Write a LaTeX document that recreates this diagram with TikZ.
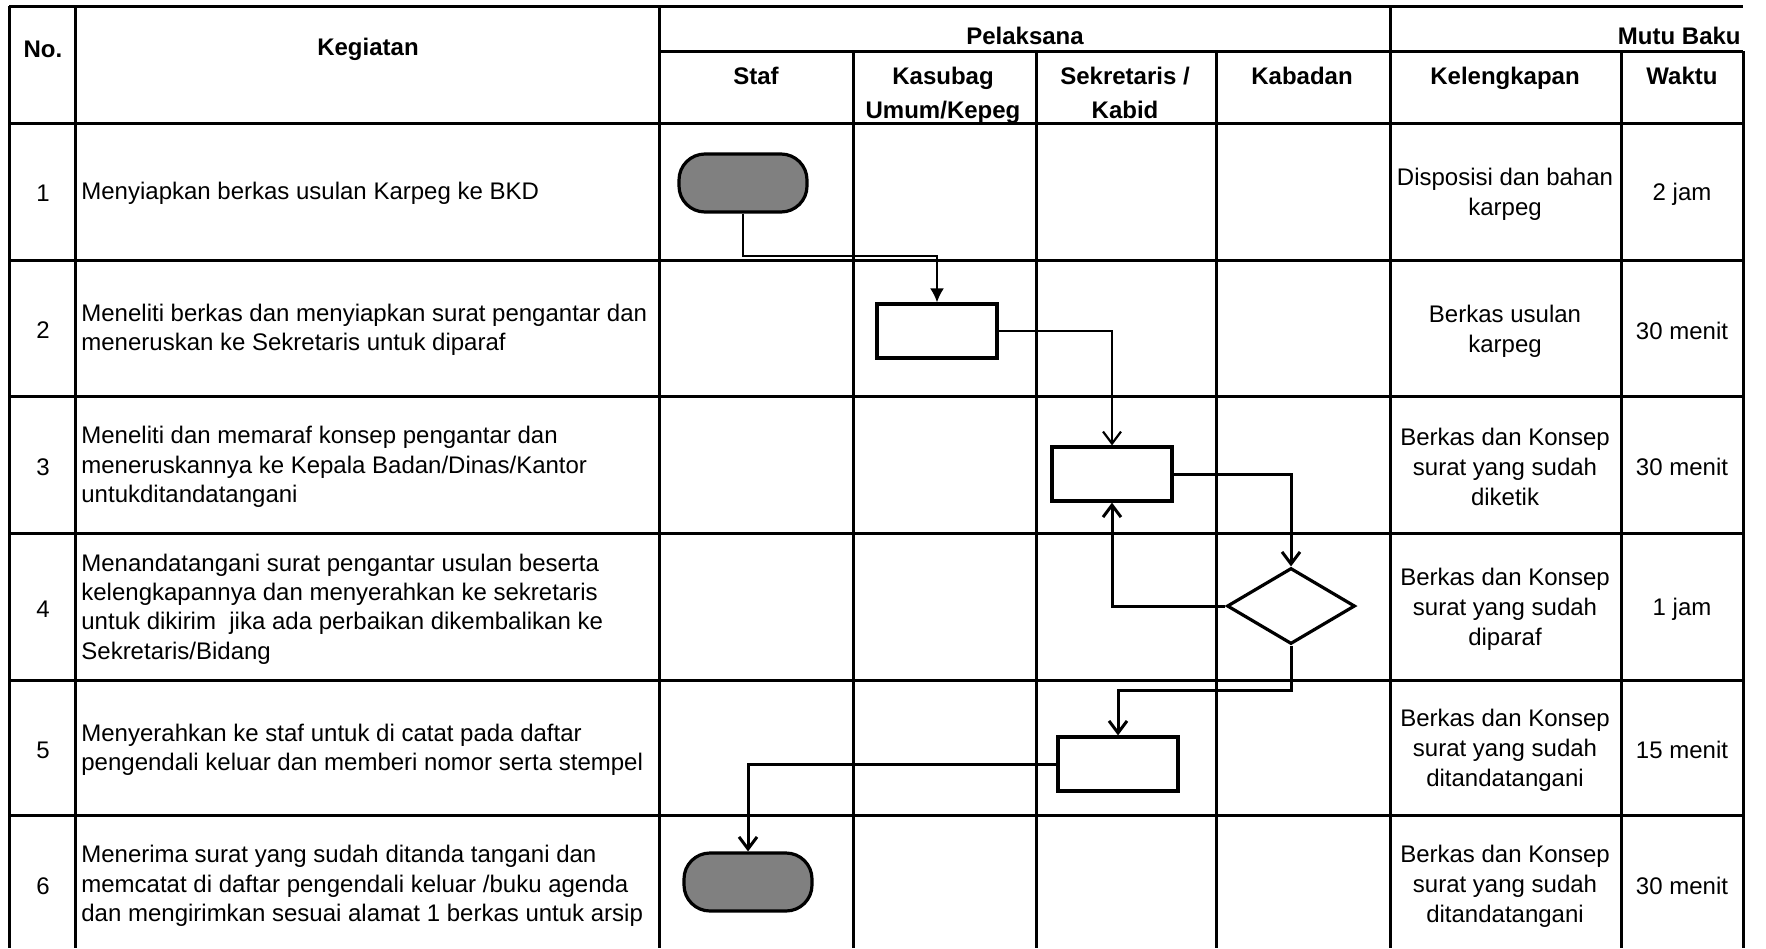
\documentclass[tikz,border=0pt]{standalone}
\usepackage{fontspec}
\setmainfont{Liberation Sans}
\usetikzlibrary{arrows.meta, shapes.geometric}

\begin{document}
\begin{tikzpicture}[x=0.5pt, y=-0.5pt, grid/.style={line width=1.5pt}, hd/.style={font=\fontsize{12}{17}\selectfont\bfseries, align=center, inner sep=0}, txt/.style={font=\fontsize{12}{14.7}\selectfont, align=left, anchor=west, inner sep=0}, cell/.style={font=\fontsize{12}{15}\selectfont, align=center, inner sep=0}, term/.style={draw, line width=1.6pt, fill=black!50, rounded corners=13pt, minimum width=64pt, minimum height=29pt}, box/.style={draw, line width=1.6pt, minimum width=60pt, minimum height=27pt, inner sep=0}, choice/.style={draw, diamond, line width=1.6pt, minimum width=64pt, minimum height=38pt, inner sep=0}, flow/.style={-{Latex[length=7pt, width=7pt]}, line width=1.1pt}, back/.style={-{Straight Barb[length=6pt, width=9pt]}, line width=1.5pt}]

\useasboundingbox (0,0) rectangle (1766,948);
% table grid
\draw[grid] (9,6) -- (1743,6); \draw[grid] (659,51) -- (1743,51);
\draw[grid] (9,6) -- (9,948); \draw[grid] (75,6) -- (75,948); \draw[grid] (659,6) -- (659,948); \draw[grid] (1390,6) -- (1390,948);
\draw[grid] (853,51) -- (853,948); \draw[grid] (1036,51) -- (1036,948); \draw[grid] (1216,51) -- (1216,948); \draw[grid] (1621,51) -- (1621,948); \draw[grid] (1743,51) -- (1743,948);
\draw[grid] (9,123) -- (1743,123); \draw[grid] (9,260) -- (1743,260); \draw[grid] (9,396) -- (1743,396); \draw[grid] (9,533) -- (1743,533); \draw[grid] (9,680) -- (1743,680); \draw[grid] (9,815) -- (1743,815);

% header
\node[hd] (hno) at (43,49) {No.}; \node[hd] (hkeg) at (368,49) {Kegiatan}; \node[hd] (hpel) at (1025,36) {Pelaksana}; \node[hd, anchor=east] (hmutu) at (1741,36) {Mutu Baku};
\node[hd, anchor=north] (hstaf) at (756,67) {Staf}; \node[hd, anchor=north] (hkasu) at (943,67) {Kasubag\\Umum/Kepeg}; \node[hd, anchor=north] (hsekr) at (1125,67) {Sekretaris /\\Kabid};
\node[hd, anchor=north] (hkaba) at (1302,67) {Kabadan}; \node[hd, anchor=north] (hlengk) at (1505,67) {Kelengkapan}; \node[hd, anchor=north] (hwaktu) at (1682,67) {Waktu};

% rows
\node[cell] (n1) at (43,193) {1}; \node[txt] (k1) at (81,193) {Menyiapkan berkas usulan Karpeg ke BKD};
\node[cell] (n2) at (43,330) {2}; \node[txt] (k2) at (81,330) {Meneliti berkas dan menyiapkan surat pengantar dan\\meneruskan ke Sekretaris untuk diparaf};
\node[cell] (n3) at (43,467) {3}; \node[txt] (k3) at (81,467) {Meneliti dan memaraf konsep pengantar dan\\meneruskannya ke Kepala Badan/Dinas/Kantor\\untukditandatangani};
\node[cell] (n4) at (43,609) {4}; \node[txt] (k4) at (81,609) {Menandatangani surat pengantar usulan beserta\\kelengkapannya dan menyerahkan ke sekretaris\\untuk dikirim\ \ jika ada perbaikan dikembalikan ke\\Sekretaris/Bidang};
\node[cell] (n5) at (43,750) {5}; \node[txt] (k5) at (81,750) {Menyerahkan ke staf untuk di catat pada daftar\\pengendali keluar dan memberi nomor serta stempel};
\node[cell] (n6) at (43,886) {6}; \node[txt] (k6) at (81,886) {Menerima surat yang sudah ditanda tangani dan\\memcatat di daftar pengendali keluar /buku agenda\\dan mengirimkan sesuai alamat 1 berkas untuk arsip};

\node[cell] (l1) at (1505,194) {Disposisi dan bahan\\karpeg}; \node[cell] (w1) at (1682,194) {2 jam};
\node[cell] (l2) at (1505,331) {Berkas usulan\\karpeg}; \node[cell] (w2) at (1682,331) {30 menit};
\node[cell] (l3) at (1505,467) {Berkas dan Konsep\\surat yang sudah\\diketik}; \node[cell] (w3) at (1682,467) {30 menit};
\node[cell] (l4) at (1505,609) {Berkas dan Konsep\\surat yang sudah\\diparaf}; \node[cell] (w4) at (1682,609) {1 jam};
\node[cell] (l5) at (1505,750) {Berkas dan Konsep\\surat yang sudah\\ditandatangani}; \node[cell] (w5) at (1682,750) {15 menit};
\node[cell] (l6) at (1505,886) {Berkas dan Konsep\\surat yang sudah\\ditandatangani}; \node[cell] (w6) at (1682,886) {30 menit};

% flow
\node[term] (t1) at (743,183) {}; \node[box] (b2) at (937,331) {}; \node[box] (b3) at (1112,474) {};
\node[choice] (d4) at (1291,606) {}; \node[box] (b5) at (1118,764) {}; \node[term] (t6) at (748,882) {};
\coordinate (j1) at (0,256); \coordinate (j5) at (0,690);
\draw[flow] (t1.south) |- (b2.north |- j1) -- (b2.north); \draw[back, line width=1.1pt] (b2.east) -| (b3.north);
\draw[back] (b3.east) -| (d4.north); \draw[back] (d4.west) -| (b3.south);
\draw[back] (d4.south) |- (b5.north |- j5) -- (b5.north); \draw[back] (b5.west) -| (t6.north);
\end{tikzpicture}
\end{document}
